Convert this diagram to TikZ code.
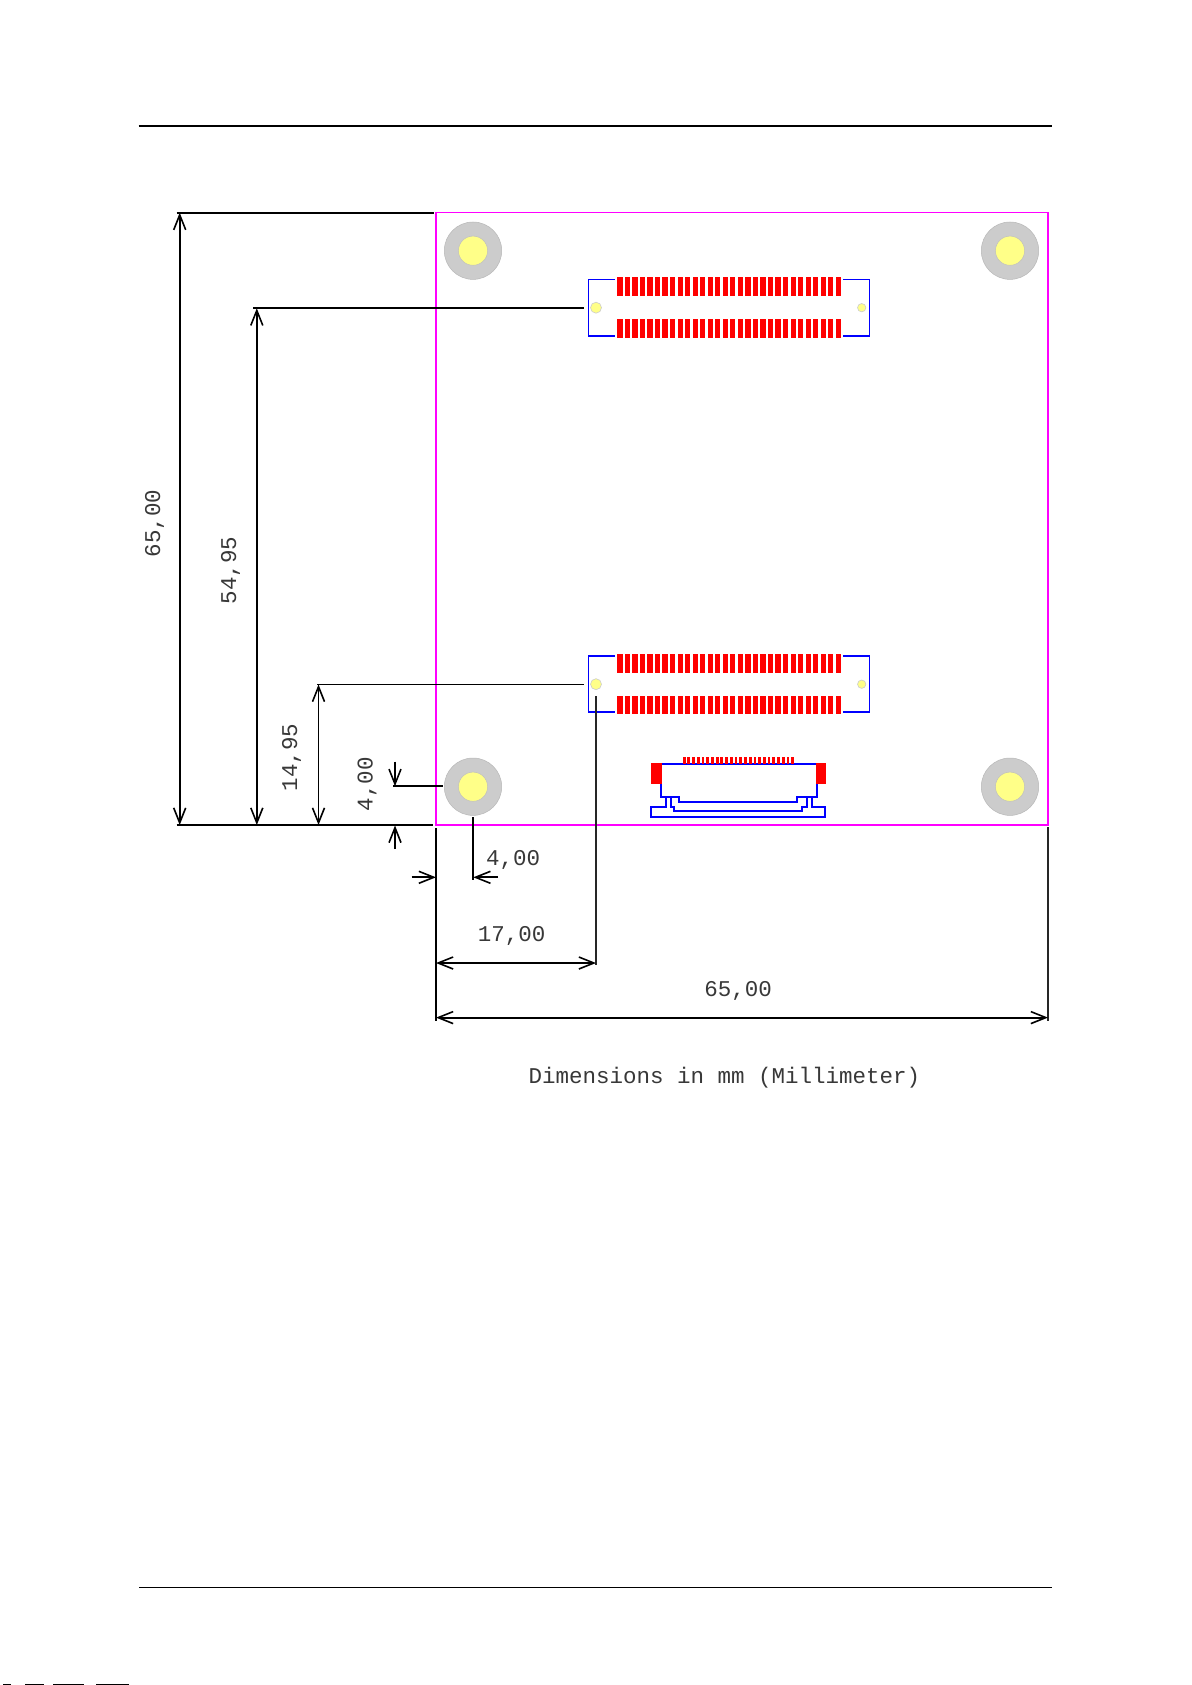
\documentclass[tikz,border=0pt]{standalone}
\usepackage{fontspec}
\setmainfont{Liberation Mono}
\usetikzlibrary{arrows.meta}
\definecolor{brdm}{RGB}{255,0,255}
\definecolor{pcbblue}{RGB}{0,0,255}
\definecolor{padred}{RGB}{255,0,0}
\definecolor{holeg}{RGB}{204,204,204}
\definecolor{holey}{RGB}{255,255,136}
\tikzset{
 x=1pt,y=-1pt,
 hd/.tip={Straight Barb[length=15pt,width=12pt,line width=1.6pt]},
 dim/.style={draw=black,line width=2pt},
 dimthin/.style={draw=black,line width=1.4pt},
 dimarrow/.style={draw=black,line width=1.9pt},
 label/.style={font=\fontsize{22.5pt}{24pt}\selectfont,text=black!78,inner sep=0pt},
 labelv/.style={label,rotate=90},
 rule/.style={draw=black,line cap=butt},
 board/.style={draw=brdm,line width=1.6pt},
 blue/.style={draw=pcbblue,line width=1.7pt},
 pin/.style={fill=padred,draw=none},
}
\newcommand{\mhole}[2]{%
 \fill[holeg,draw=black!28,line width=.5pt] (#1,#2) circle[radius=28.7];
 \fill[holey,draw=black!25,line width=.5pt] (#1,#2) circle[radius=14.6];}
\newcommand{\conn}[1]{%
 \begin{scope}[yshift=-#1pt]
 \foreach \i in {0,...,29}{
   \fill[pin] ({617.3+7.53*\i},277.3) rectangle +(5.2,19);
   \fill[pin] ({617.3+7.53*\i},319) rectangle +(5.2,18.8);}
 \draw[blue] (615,279.6) -- (588.6,279.6) -- (588.6,335.7) -- (615,335.7);
 \draw[blue] (843.3,279.6) -- (869.6,279.6) -- (869.6,335.7) -- (843.3,335.7);
 \fill[holey,draw=black!20,line width=.6pt] (596,307.7) circle[radius=5.5];
 \fill[holey,draw=black!20,line width=.6pt] (861.7,307.7) circle[radius=4.2];
 \end{scope}}
\begin{document}
\begin{tikzpicture}
\useasboundingbox (0,0) rectangle (1191,1685);
\fill[white] (0,0) rectangle (1191,1685);
% page rules
\draw[rule,line width=1.9pt] (138.7,125.7) -- (1051.5,125.7);
\draw[rule,line width=1.3pt] (139,1587.3) -- (1052,1587.3);
% bottom page fragments
\foreach \a/\b in {3/11,25/44,53/84,96/129}{\fill[black] (\a,1684) rectangle (\b,1685);}
% board
\draw[board] (435.8,212.5) rectangle (1048,824.8);
\mhole{473}{250.7}\mhole{1010}{250.7}\mhole{473}{786.7}\mhole{1010}{786.7}
\conn{0}
\conn{376.5}
% FPC connector
\draw[blue] (661,764.3) -- (816.5,764.3);
\draw[blue] (660.7,783) -- (660.7,796.7) -- (679.3,796.7) -- (679.3,802) -- (797.3,802) -- (797.3,796.7) -- (816.7,796.7) -- (816.7,783);
\draw[blue] (666,797) -- (666,807.3) -- (651,807.3) -- (651,816.7) -- (825,816.7) -- (825,807.3) -- (811.7,807.3) -- (811.7,797);
\draw[blue] (670.7,797) -- (670.7,807.3) -- (674.3,807.3) -- (674.3,811.3) -- (802.3,811.3) -- (802.3,807.3) -- (806.7,807.3) -- (806.7,797);
\foreach \i in {0,...,23}{\fill[pin] ({682.7+4.72*\i},757) rectangle +(2.8,6.5);}
\fill[pin] (650.7,763.3) rectangle (661.7,784);
\fill[pin] (816,763.3) rectangle (825.7,784);
% dimension coordinates
\coordinate (top0) at (176.7,212.7); \coordinate (top1) at (434,212.7);
\coordinate (bot0) at (176.7,825);   \coordinate (bot1) at (433,825);
\coordinate (a65t) at (179.7,212.7); \coordinate (a65b) at (179.7,825);
\coordinate (u0) at (253,308.3);     \coordinate (u1) at (584,308.3);
\coordinate (a54t) at (256.8,308.3); \coordinate (a54b) at (256.8,825);
\coordinate (l0) at (317,684.5);     \coordinate (l1) at (583.5,684.5);
\coordinate (a14t) at (318.5,684.5); \coordinate (a14b) at (318.5,825);
\coordinate (h0) at (393,786.2);     \coordinate (h1) at (443,786.2);
\coordinate (s0) at (395,761.7);     \coordinate (s1) at (395,786.2);
\coordinate (s2) at (395,849);       \coordinate (s3) at (395,825.5);
\coordinate (v0) at (473.3,817);     \coordinate (v1) at (473.3,880);
\coordinate (t0) at (498,877.3);     \coordinate (t1) at (473.3,877.3);
\coordinate (t2) at (411.7,877.3);   \coordinate (t3) at (436,877.3);
\coordinate (ll0) at (436,828);      \coordinate (ll1) at (436,1021);
\coordinate (m0) at (596,696);       \coordinate (m1) at (596,965);
\coordinate (r0) at (1048,827);      \coordinate (r1) at (1048,1021);
\coordinate (w0) at (436,963);       \coordinate (w1) at (596,963);
\coordinate (z0) at (436,1017.6);    \coordinate (z1) at (1048,1017.6);
% extension lines
\draw[dim] (top0) -- (top1);
\draw[dim] (bot0) -- (bot1);
\draw[dim] (u0) -- (u1);
\draw[dimthin] (l0) -- (l1);
\draw[dim] (h0) -- (h1);
\draw[dim] (v0) -- (v1);
\draw[dim] (ll0) -- (ll1);
\draw[dimthin,draw=black!85] (m0) -- (m1);
\draw[dimthin,draw=black!85] (r0) -- (r1);
% dimension arrows
\draw[dimarrow,{hd}-{hd}] (a65t) -- (a65b);
\draw[dimarrow,{hd}-{hd}] (a54t) -- (a54b);
\draw[dimthin,{hd}-{hd}] (a14t) -- (a14b);
\draw[dimarrow,-{hd}] (s0) -- (s1);
\draw[dimarrow,-{hd}] (s2) -- (s3);
\draw[dimarrow,-{hd}] (t0) -- (t1);
\draw[dimarrow,-{hd}] (t2) -- (t3);
\draw[dimarrow,{hd}-{hd}] (w0) -- (w1);
\draw[dimarrow,{hd}-{hd}] (z0) -- (z1);
% labels
\node[labelv] (d65v) at (154.6,523.5) {65,00};
\node[labelv] (d54v) at (230.5,570.5) {54,95};
\node[labelv] (d14v) at (291.5,757.6) {14,95};
\node[labelv] (d4v) at (367,784) {4,00};
\node[label] (d4h) at (513,859.5) {4,00};
\node[label] (d17) at (511.7,936) {17,00};
\node[label] (d65h) at (738,990.5) {65,00};
\node[label] (cap) at (724.5,1078) {Dimensions in mm (Millimeter)};
\end{tikzpicture}
\end{document}
